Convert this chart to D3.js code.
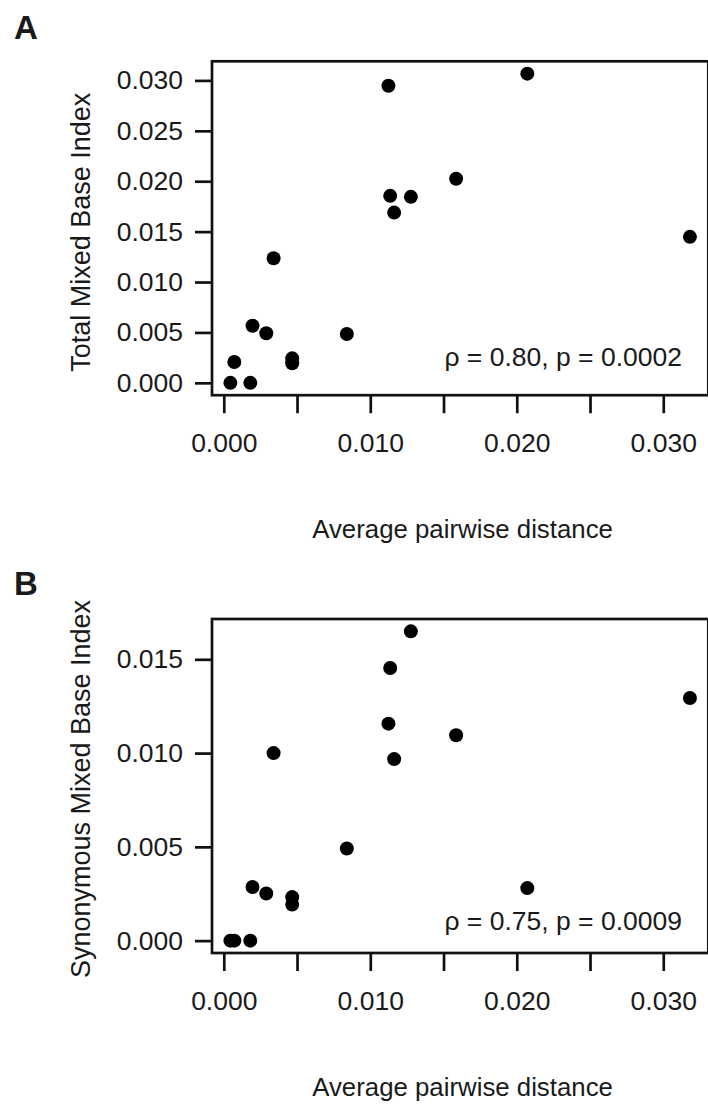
<!DOCTYPE html>
<html>

<head>
    <meta charset='utf-8'>
    <title>Mixed base index vs pairwise distance</title>
    <script type='text/javascript' src='https://cdn.jsdelivr.net/npm/d3@7'></script>
    <style>
        body { margin: 0; background: #fff; }
        text { font-family: 'Liberation Sans', Arial, Helvetica, sans-serif; fill: #1a1a1a; }
    </style>
</head>

<body>
    <svg width='708' height='1105'></svg>
    <script type='text/javascript'>
        // average pairwise distance per subject (shared by both panels)
        const distance = [0.00045, 0.00072, 0.00181, 0.00196, 0.0029, 0.0034, 0.00467, 0.00467,
            0.0084, 0.01124, 0.01136, 0.01163, 0.01277, 0.01586, 0.02072, 0.03182]
        // panel A: total mixed base index
        const totalMBI = [0, 0.00207, 0, 0.00567, 0.00492, 0.01236, 0.00243, 0.00194,
            0.00485, 0.02947, 0.01855, 0.01689, 0.01845, 0.02024, 0.03067, 0.01448]
        // panel B: synonymous mixed base index
        const synMBI = [0, 0, 0, 0.00286, 0.00251, 0.0100, 0.00232, 0.00192,
            0.00491, 0.01157, 0.01454, 0.00968, 0.01649, 0.01095, 0.0028, 0.01294]

        const xTicks = [0, 0.005, 0.010, 0.015, 0.020, 0.025, 0.030]
        const xTickLabels = ['0.000', '', '0.010', '', '0.020', '', '0.030']
        const yTicksA = [0, 0.005, 0.010, 0.015, 0.020, 0.025, 0.030]
        const yTicksB = [0, 0.005, 0.010, 0.015]
        const xTitle = 'Average pairwise distance'

        const panels = [
            { tag: 'A', ys: totalMBI, yTicks: yTicksA, yTitle: 'Total Mixed Base Index',
              note: 'ρ = 0.80, p = 0.0002', top: 61.3, bottom: 395.2, noteY: 366, tagY: 39, titleShift: 4 },
            { tag: 'B', ys: synMBI, yTicks: yTicksB, yTitle: 'Synonymous Mixed Base Index',
              note: 'ρ = 0.75, p = 0.0009', top: 619, bottom: 953, noteY: 930, tagY: 595, titleShift: 3 }
        ]

        const svg = d3.select('svg')
        const left = 212, right = 708.3
        const fs = 26.5

        // R style limits: data range padded by 4% on each side
        function rLim(vals) {
            const [lo, hi] = d3.extent(vals)
            const pad = (hi - lo) * 0.04
            return [lo - pad, hi + pad]
        }

        panels.forEach(p => {
            const g = svg.append('g')
            const x = d3.scaleLinear().domain(rLim(distance)).range([left, right])
            const y = d3.scaleLinear().domain(rLim(p.ys)).range([p.bottom, p.top])

            // x axis, ticks every 0.005 labels every 0.01
            const xAxis = g.append('g')
                .attr('transform', `translate(0,${p.bottom})`)
                .call(d3.axisBottom(x).tickValues(xTicks)
                    .tickFormat((d, i) => xTickLabels[i])
                    .tickSize(18).tickPadding(20))
            xAxis.select('.domain').remove()

            const yAxis = g.append('g')
                .attr('transform', `translate(${left},0)`)
                .call(d3.axisLeft(y).tickValues(p.yTicks)
                    .tickFormat(d3.format('.3f'))
                    .tickSize(17).tickPadding(12))
            yAxis.select('.domain').remove()

            g.selectAll('.tick line').attr('stroke', '#111').attr('stroke-width', 2.7)
            g.selectAll('.tick text').attr('font-size', fs).attr('fill', '#1a1a1a')
                .style('font-family', "'Liberation Sans', Arial, sans-serif")

            // plot box
            g.append('rect')
                .attr('x', left).attr('y', p.top)
                .attr('width', right - left).attr('height', p.bottom - p.top)
                .attr('fill', 'none').attr('stroke', '#111').attr('stroke-width', 2.7)

            g.append('g').selectAll('circle').data(distance)
                .enter().append('circle')
                .attr('cx', d => x(d))
                .attr('cy', (d, i) => y(p.ys[i]))
                .attr('r', 7)
                .attr('fill', '#000')

            g.append('text')
                .attr('x', 682).attr('y', p.noteY)
                .attr('text-anchor', 'end').attr('font-size', fs)
                .text(p.note)

            g.append('text')
                .attr('x', x(0.0163)).attr('y', p.bottom + 143)
                .attr('text-anchor', 'middle').attr('font-size', 25.8)
                .text(xTitle)

            g.append('text')
                .attr('transform', `translate(90,${(p.top + p.bottom) / 2 + p.titleShift}) rotate(-90)`)
                .attr('text-anchor', 'middle').attr('font-size', 27)
                .text(p.yTitle)

            g.append('text')
                .attr('x', 14).attr('y', p.tagY)
                .attr('font-size', 33).attr('font-weight', 'bold')
                .text(p.tag)
        })
    </script>
</body>

</html>
